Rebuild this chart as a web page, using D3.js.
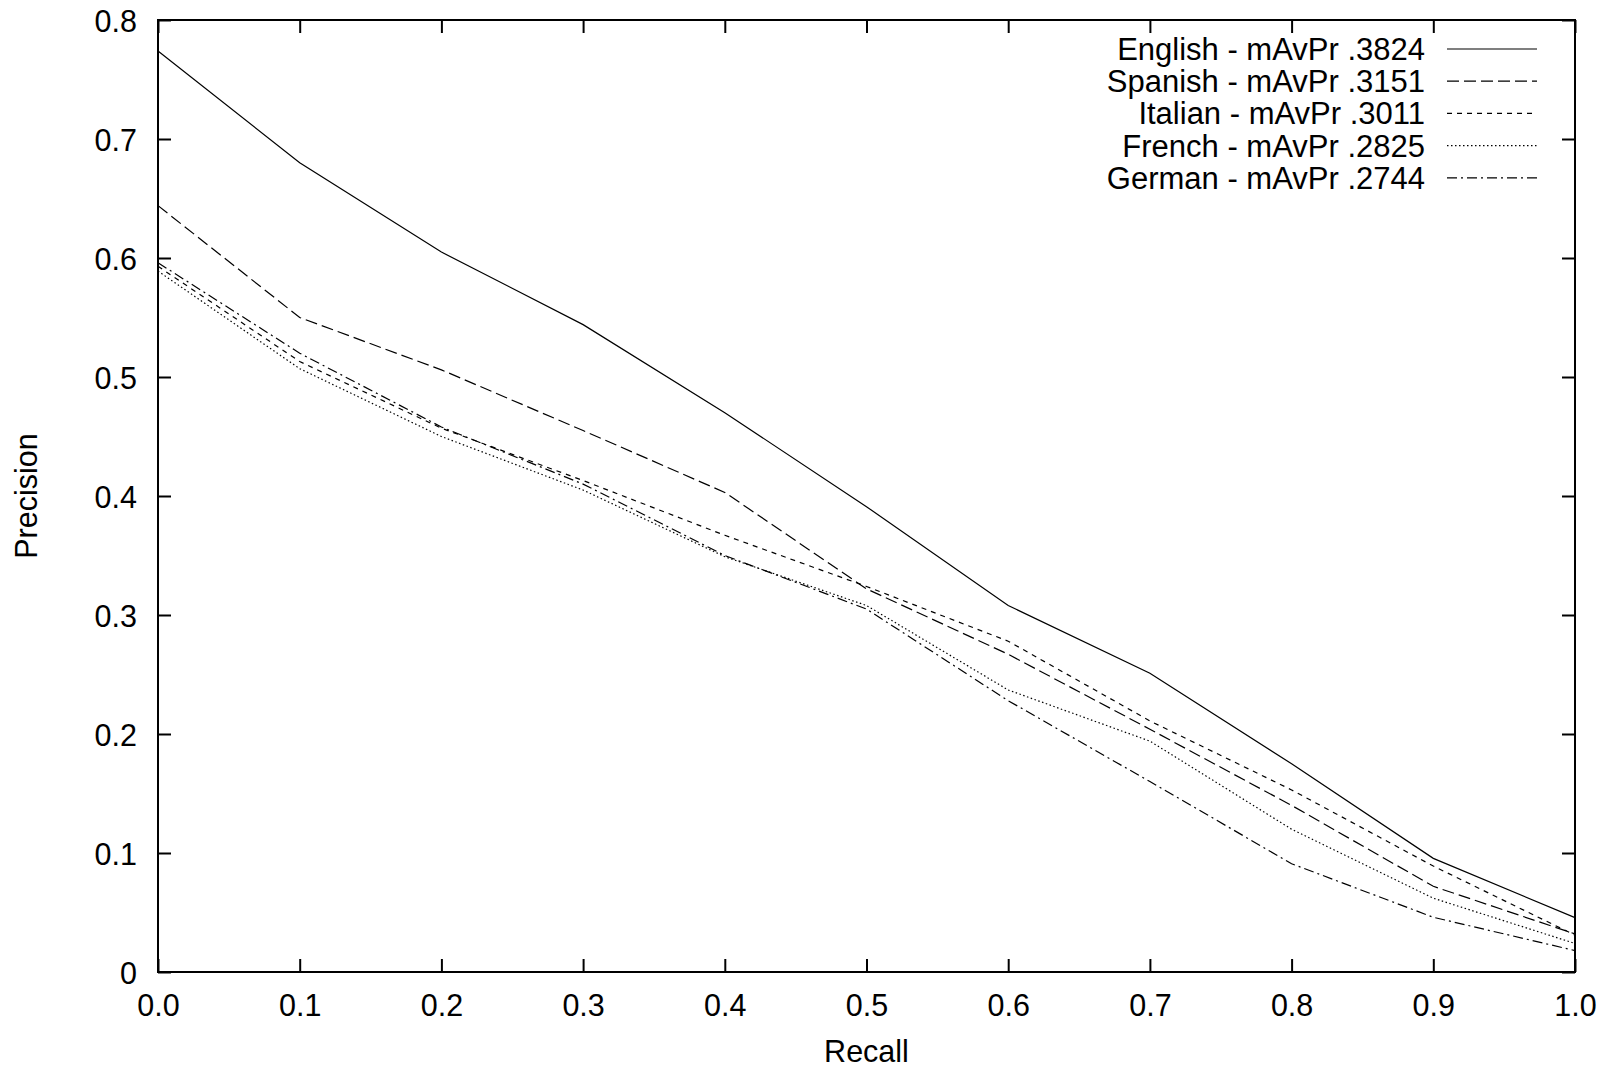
<!DOCTYPE html>
<html lang="en">
<head>
    <meta charset="UTF-8">
    <title>Precision / Recall</title>
    <script src="https://cdn.jsdelivr.net/npm/d3@7"></script>
    <style>
        body { margin: 0; background: #fff; }
        text { font-family: "Liberation Sans", Arial, sans-serif; fill: #000; }
    </style>
</head>
<body>
<div id="chart"></div>
<script>
    // recall levels and precision per language
    var recall = [0.0, 0.1, 0.2, 0.3, 0.4, 0.5, 0.6, 0.7, 0.8, 0.9, 1.0];
    var english = [0.774, 0.680, 0.605, 0.544, 0.470, 0.391, 0.308, 0.251, 0.175, 0.0955, 0.0457];
    var spanish = [0.644, 0.550, 0.506, 0.455, 0.403, 0.322, 0.267, 0.204, 0.140, 0.072, 0.032];
    var italian = [0.593, 0.513, 0.457, 0.413, 0.367, 0.324, 0.278, 0.211, 0.153, 0.089, 0.031];
    var french  = [0.589, 0.507, 0.450, 0.405, 0.349, 0.308, 0.237, 0.194, 0.120, 0.062, 0.024];
    var german  = [0.596, 0.520, 0.458, 0.410, 0.350, 0.305, 0.228, 0.160, 0.091, 0.046, 0.018];

    var names = ["English - mAvPr .3824", "Spanish - mAvPr .3151", "Italian - mAvPr .3011",
                 "French - mAvPr .2825", "German - mAvPr .2744"];
    var xTicks = [0, 0.1, 0.2, 0.3, 0.4, 0.5, 0.6, 0.7, 0.8, 0.9, 1.0];
    var yTicks = [0, 0.1, 0.2, 0.3, 0.4, 0.5, 0.6, 0.7, 0.8];

    var series = [english, spanish, italian, french, german];
    var dashes = [null, "12,5", "5,5", "1.5,2.5", "10,4,2,4"];

    var w = 1604, h = 1068;
    var mLeft = 158, mRight = 1575, mTop = 20, mBottom = 972;
    var fs = 30.5;

    var svg = d3.select("#chart").append("svg")
        .attr("width", w)
        .attr("height", h);

    var xScale = d3.scaleLinear().domain([0, 1]).range([mLeft, mRight]);
    var yScale = d3.scaleLinear().domain([0, 0.8]).range([mBottom, mTop]);

    function styleAxis(g) {
        g.select(".domain").remove();
        g.selectAll(".tick line").attr("stroke", "#000").attr("stroke-width", 2);
        g.selectAll("text").attr("font-size", fs + "px").attr("font-family", null).style("fill", "#000");
    }

    // bottom + left with labels, top + right mirrored ticks
    svg.append("g")
        .attr("transform", "translate(0," + mBottom + ")")
        .call(d3.axisBottom(xScale).tickValues(xTicks).tickFormat(d3.format(".1f"))
            .tickSizeInner(-13).tickSizeOuter(0).tickPadding(22))
        .call(styleAxis);

    svg.append("g")
        .attr("transform", "translate(" + mLeft + ",0)")
        .call(d3.axisLeft(yScale).tickValues(yTicks)
            .tickFormat(function(d) { return d === 0 ? "0" : d3.format(".1f")(d); })
            .tickSizeInner(-13).tickSizeOuter(0).tickPadding(21))
        .call(styleAxis)
        .selectAll("text").attr("dy", "0.38em");

    svg.append("g")
        .attr("transform", "translate(0," + mTop + ")")
        .call(d3.axisTop(xScale).tickValues(xTicks).tickFormat("").tickSizeInner(-13).tickSizeOuter(0))
        .call(styleAxis);

    svg.append("g")
        .attr("transform", "translate(" + mRight + ",0)")
        .call(d3.axisRight(yScale).tickValues(yTicks).tickFormat("").tickSizeInner(-13).tickSizeOuter(0))
        .call(styleAxis);

    svg.append("rect")
        .attr("x", mLeft)
        .attr("y", mTop)
        .attr("width", mRight - mLeft)
        .attr("height", mBottom - mTop)
        .attr("fill", "none")
        .attr("stroke", "#000")
        .attr("stroke-width", 2);

    var line = d3.line()
        .x(function(d, i) { return xScale(recall[i]); })
        .y(function(d) { return yScale(d); });

    svg.selectAll(".series")
        .data(series)
        .enter()
        .append("path")
        .classed("series", true)
        .attr("d", line)
        .attr("fill", "none")
        .attr("stroke", "#000")
        .attr("stroke-width", 1.2)
        .attr("stroke-dasharray", function(d, i) { return dashes[i]; });

    // legend
    var legend = svg.append("g");
    names.forEach(function(n, i) {
        var ly = 49 + i * 32.2;
        legend.append("text")
            .attr("x", 1425)
            .attr("y", ly + 11)
            .attr("text-anchor", "end")
            .attr("font-size", "31px")
            .text(n);
        legend.append("line")
            .attr("x1", 1447)
            .attr("x2", 1537)
            .attr("y1", ly)
            .attr("y2", ly)
            .attr("stroke", "#000")
            .attr("stroke-width", 1.2)
            .attr("stroke-dasharray", dashes[i]);
    });

    svg.append("text")
        .attr("x", (mLeft + mRight) / 2)
        .attr("y", 1062)
        .attr("text-anchor", "middle")
        .attr("font-size", fs + "px")
        .text("Recall");

    svg.append("text")
        .attr("transform", "translate(37," + ((mTop + mBottom) / 2) + ") rotate(-90)")
        .attr("text-anchor", "middle")
        .attr("font-size", fs + "px")
        .text("Precision");
</script>
</body>
</html>
